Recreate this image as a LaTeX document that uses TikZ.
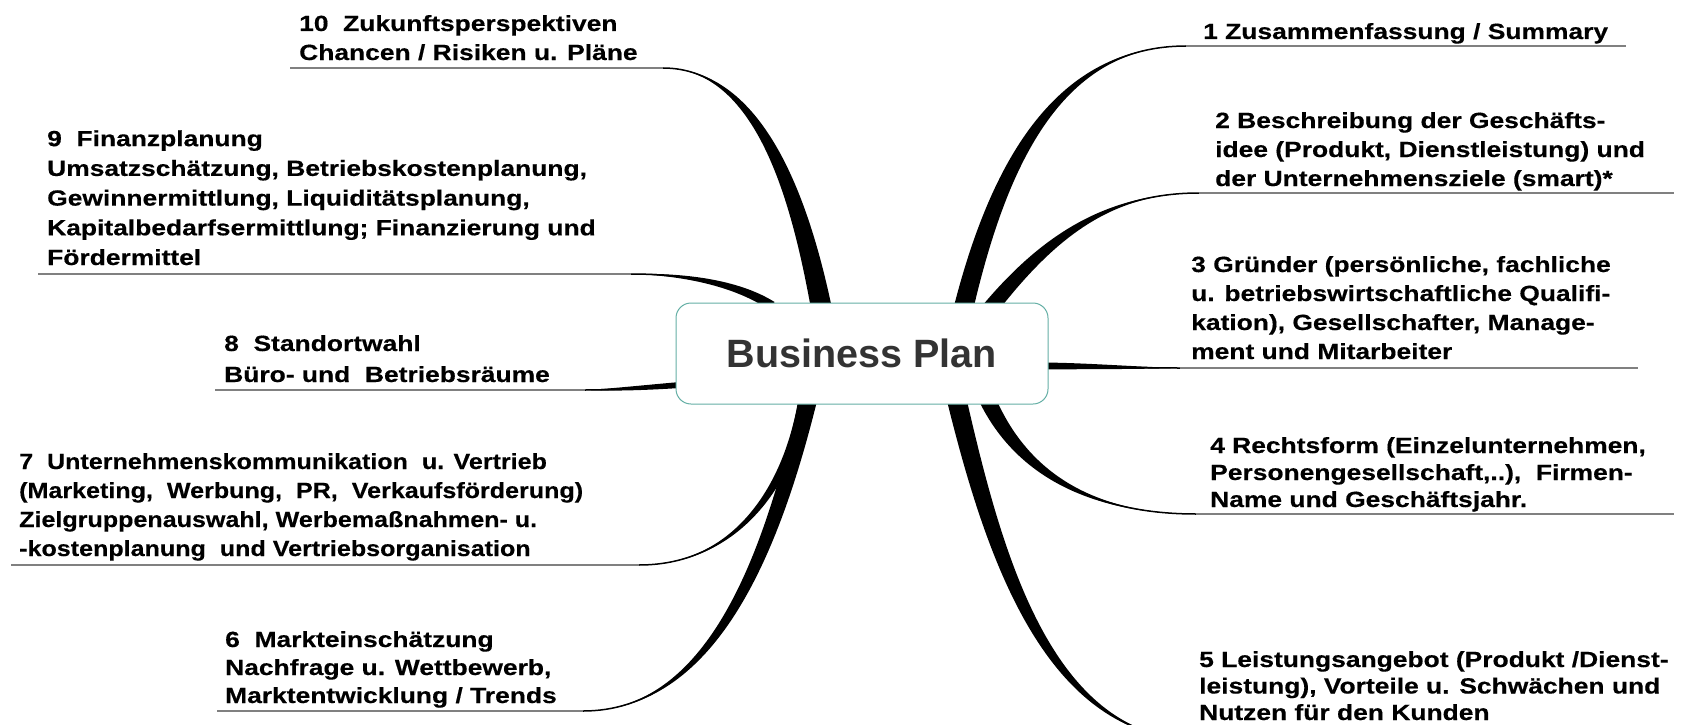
\documentclass[tikz,border=0pt]{standalone}
\usepackage{fontspec}
\setmainfont{Liberation Sans}
\newfontfamily\labfont{Liberation Sans}[FakeStretch=1.2, FakeBold=0.4]
\newfontfamily\labfontn{Liberation Sans}[FakeStretch=1.14, FakeBold=0.4]
\usetikzlibrary{calc}
\definecolor{boxline}{RGB}{100,175,165}
\definecolor{ulgray}{RGB}{128,128,128}
\definecolor{titlegray}{RGB}{51,51,51}
\newcommand\lns[1]{\begin{tabular}[b]{@{}l@{}}#1\end{tabular}}
\newcommand\branch[6]{%
  \fill[branchfill] ($(#1)+(#5,#6)$) .. controls ($(#2)+(0.85*#5,0.85*#6)$) and ($(#3)+(0.4*#5,0.4*#6)$) .. (#4)
     .. controls ($(#3)-(0.4*#5,0.4*#6)$) and ($(#2)-(0.85*#5,0.85*#6)$) .. ($(#1)-(#5,#6)$) -- cycle;
  \draw[branchline] (#1) .. controls (#2) and (#3) .. (#4);
}
\begin{document}
\begin{tikzpicture}[x=1pt,y=-1pt,
  lab/.style={anchor=base west, inner sep=0pt, font=\labfont\bfseries\fontsize{22}{29}\selectfont},
  branchfill/.style={fill=black},
  branchline/.style={draw=black, line width=1.5pt},
  ul/.style={draw=ulgray, line width=1.3pt},
  centre/.style={draw=boxline, fill=white, line width=1pt, rounded corners=15pt,
    minimum width=372pt, minimum height=101pt, inner sep=0pt,
    font=\bfseries\fontsize{39.5}{44}\selectfont, text=titlegray}]
\useasboundingbox (0,0) rectangle (1684,725);
% end points of connectors (underline starts)
\coordinate (e1) at (1186,46);
\coordinate (e2) at (1199,193);
\coordinate (e3) at (1180,368);
\coordinate (e4) at (1196,514);
\coordinate (e5) at (1199,740);
\coordinate (e6) at (583,711);
\coordinate (e7) at (639,565);
\coordinate (e8) at (585,390);
\coordinate (e9) at (631,274);
\coordinate (e10) at (663,68);
% start points at the central box and control points
\coordinate (s1) at (964,306);  \coordinate (a1) at (1000,160); \coordinate (c1) at (1060,46);
\coordinate (s2) at (992,306);  \coordinate (a2) at (1050,235); \coordinate (c2) at (1110,193);
\coordinate (s3) at (1044,366); \coordinate (a3) at (1090,366); \coordinate (c3) at (1130,368);
\coordinate (s4) at (988,401);  \coordinate (a4) at (1025,480); \coordinate (c4) at (1100,514);
\coordinate (s5) at (957,401);  \coordinate (a5) at (995,560);  \coordinate (c5) at (1050,740);
\coordinate (s6) at (808,401);  \coordinate (a6) at (770,560);  \coordinate (c6) at (710,711);
\coordinate (s7) at (804,401);  \coordinate (a7) at (790,480);  \coordinate (c7) at (740,565);
\coordinate (s8) at (680,385);  \coordinate (a8) at (640,388);  \coordinate (c8) at (610,390);
\coordinate (s9) at (772,306);  \coordinate (a9) at (740,285);  \coordinate (c9) at (690,274);
\coordinate (s10) at (821,306); \coordinate (a10) at (800,200); \coordinate (c10) at (760,68);
% branches
\branch{s1}{a1}{c1}{e1}{10}{0}
\branch{s2}{a2}{c2}{e2}{10}{0}
\branch{s3}{a3}{c3}{e3}{0}{3.5}
\branch{s4}{a4}{c4}{e4}{9}{0}
\branch{s5}{a5}{c5}{e5}{10}{0}
\branch{s6}{a6}{c6}{e6}{9}{0}
\branch{s7}{a7}{c7}{e7}{6}{0}
\branch{s8}{a8}{c8}{e8}{0}{3}
\branch{s9}{a9}{c9}{e9}{2.5}{-4}
\branch{s10}{a10}{c10}{e10}{10.5}{0}
% central node
\node[centre] (bp) at (862,353.5) {Business Plan};
% labels
\node[lab] (t1) at (1203,39) {\lns{1 Zusammenfassung / Summary}};
\node[lab] (t2) at (1215,186) {\lns{2 Beschreibung der Geschäfts-\\idee (Produkt, Dienstleistung) und\\der Unternehmensziele (smart)*}};
\node[lab] (t3) at (1191,359) {\lns{3 Gründer (persönliche, fachliche\\u. betriebswirtschaftliche Qualifi-\\kation), Gesellschafter, Manage-\\ment und Mitarbeiter}};
\node[lab, font=\labfont\bfseries\fontsize{22}{27}\selectfont] (t4) at (1210,507) {\lns{4 Rechtsform (Einzelunternehmen,\\Personengesellschaft,..),\ \ Firmen-\\Name und Geschäftsjahr.}};
\node[lab, font=\labfont\bfseries\fontsize{22}{26.5}\selectfont] (t5) at (1199,720) {\lns{5 Leistungsangebot (Produkt /Dienst-\\leistung), Vorteile u. Schwächen und\\Nutzen für den Kunden}};
\node[lab, font=\labfont\bfseries\fontsize{22}{28}\selectfont] (t6) at (225,703) {\lns{6\ \ Markteinschätzung\\Nachfrage u. Wettbewerb,\\Marktentwicklung / Trends}};
\node[lab, font=\labfontn\bfseries\fontsize{22}{29}\selectfont] (t7) at (19,556) {\lns{7\ \ Unternehmenskommunikation\ \ u. Vertrieb\\(Marketing,\ \ Werbung,\ \ PR,\ \ Verkaufsförderung)\\Zielgruppenauswahl, Werbemaßnahmen- u.\\-kostenplanung\ \ und Vertriebsorganisation}};
\node[lab, font=\labfont\bfseries\fontsize{22}{31}\selectfont] (t8) at (224,382) {\lns{8\ \ Standortwahl\\Büro- und\ \ Betriebsräume}};
\node[lab, font=\labfont\bfseries\fontsize{22}{29.7}\selectfont] (t9) at (47,265) {\lns{9\ \ Finanzplanung\\Umsatzschätzung, Betriebskostenplanung,\\Gewinnermittlung, Liquiditätsplanung,\\Kapitalbedarfsermittlung; Finanzierung und\\Fördermittel}};
\node[lab] (t10) at (299,60) {\lns{10\ \ Zukunftsperspektiven\\Chancen / Risiken u. Pläne}};
% underlines
\draw[ul] (e1) -- (1626,46);
\draw[ul] (e2) -- (1674,193);
\draw[ul] (e3) -- (1638,368);
\draw[ul] (e4) -- (1674,514);
\draw[ul] (e5) -- (1674,740);
\draw[ul] (e6) -- (217,711);
\draw[ul] (e7) -- (11,565);
\draw[ul] (e8) -- (215,390);
\draw[ul] (e9) -- (38,274);
\draw[ul] (e10) -- (290,68);
\end{tikzpicture}
\end{document}
